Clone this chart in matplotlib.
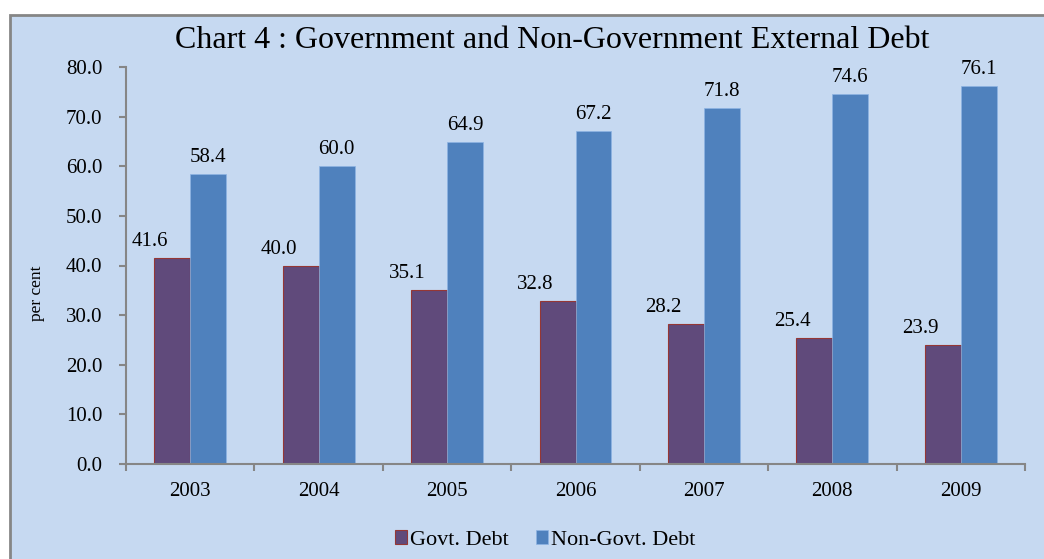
import matplotlib.pyplot as plt
import numpy as np
from matplotlib.patches import Rectangle

# data
years = ['2003', '2004', '2005', '2006', '2007', '2008', '2009']
govt_debt = [41.6, 40.0, 35.1, 32.8, 28.2, 25.4, 23.9]
non_govt_debt = [58.4, 60.0, 64.9, 67.2, 71.8, 74.6, 76.1]

bg = '#C6D9F1'
grey = '#868686'
plt.rcParams['font.family'] = ['Liberation Serif', 'DejaVu Serif']

fig = plt.figure(figsize=(10.44, 5.59), dpi=100)
fig.patch.set_facecolor('white')

# chart area background with grey frame
W, H = 1044, 559
fig.patches.append(Rectangle((10 / W, -0.05), 1.1, 1 - 15 / H + 0.05,
                             transform=fig.transFigure, facecolor=bg,
                             edgecolor=grey, linewidth=2, zorder=-5))

ax = fig.add_axes([126 / W, 1 - 464 / H, (1025 - 126) / W, (464 - 67) / H])
ax.set_zorder(1)
ax.patch.set_alpha(0)

x = np.arange(len(years))
bw = 0.28
b1 = ax.bar(x - bw / 2, govt_debt, bw, color='#604A7B', edgecolor='#953735',
            linewidth=0.8, label='Govt. Debt')
b2 = ax.bar(x + bw / 2, non_govt_debt, bw, color='#4F81BD', edgecolor='#8EB4E3',
            linewidth=0.5, label='Non-Govt. Debt')

fs = 15
for xi, v in zip(x, govt_debt):
    ax.annotate(f'{v:.1f}', (xi - bw / 2, v), xytext=(-16, 5),
                textcoords='offset points', ha='center', va='bottom', fontsize=fs)
for xi, v in zip(x, non_govt_debt):
    ax.annotate(f'{v:.1f}', (xi + bw / 2, v), xytext=(0, 5),
                textcoords='offset points', ha='center', va='bottom', fontsize=fs)

ax.set_xlim(-0.5, len(years) - 0.5)
ax.set_ylim(0, 80)
ax.set_yticks(np.arange(0, 81, 10))
ax.set_yticklabels([f'{t:.1f}' for t in np.arange(0, 81, 10)], fontsize=fs)
ax.set_xticks(x)
ax.set_xticklabels(years, fontsize=fs)
ax.set_xticks(np.arange(-0.5, len(years)), minor=True)
ax.tick_params(axis='x', which='major', length=0, pad=13)
ax.tick_params(axis='x', which='minor', length=5, color=grey, width=1.5)
ax.tick_params(axis='y', length=5, color=grey, width=1.5, pad=12)

for s in ['top', 'right']:
    ax.spines[s].set_visible(False)
for s in ['left', 'bottom']:
    ax.spines[s].set_color(grey)
    ax.spines[s].set_linewidth(1.5)

ax.set_ylabel('per cent', fontsize=12.5, va='center')
ax.yaxis.set_label_coords(-0.099, 0.43)
fig.text(552 / W, 1 - 40 / H, 'Chart 4 : Government and Non-Government External Debt',
         ha='center', va='center', fontsize=23)

fig.legend(handles=[b1, b2], loc='center', bbox_to_anchor=(545 / W, 1 - 540 / H),
           ncol=2, frameon=False, fontsize=16, handlelength=0.55, handleheight=0.55,
           handletextpad=0.15, columnspacing=1.2)

fig.savefig('out.png', dpi=100, facecolor=fig.get_facecolor())
